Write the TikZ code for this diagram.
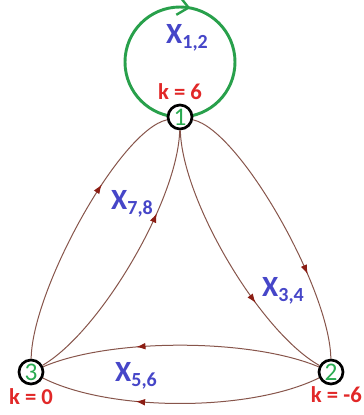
\documentclass[tikz,border=0pt]{standalone}
\usepackage{fontspec}
\setmainfont{Carlito}
\usetikzlibrary{arrows.meta, positioning, decorations.markings, backgrounds}

\definecolor{edgebrown}{RGB}{135,85,75}
\definecolor{tipred}{RGB}{140,30,20}
\definecolor{loopgreen}{RGB}{40,160,75}
\definecolor{varblue}{RGB}{70,70,200}
\definecolor{kred}{RGB}{225,40,40}
\definecolor{digitgreen}{RGB}{40,170,80}

\newcommand{\flowvar}[1]{\textbf{X}\raisebox{-0.35ex}{\fontsize{15}{15}\selectfont\bfseries #1}}

\tikzset{
  vertex/.style={circle, draw=black, line width=2pt, fill=white, inner sep=0pt,
    minimum size=18pt, font=\fontsize{19}{19}\selectfont, text=digitgreen},
  klbl/.style={font=\fontsize{17}{17}\selectfont\bfseries, text=kred, inner sep=1pt},
  varlbl/.style={font=\fontsize{22}{22}\selectfont, text=varblue},
  flow/.style={draw=edgebrown, line width=0.75pt, postaction={decorate},
    decoration={markings, mark=at position #1 with {\arrow[tipred]{Latex[length=7pt,width=5pt]}}}},
  flow/.default=0.65
}

\begin{document}
\begin{tikzpicture}[x=0.75pt, y=-0.75pt]
  \useasboundingbox (0,0) rectangle (364,415);

  % vertices
  \node[vertex] (n1) at (180,117) {1};
  \node[vertex] (n2) at (331,372) {2};
  \node[vertex] (n3) at (31,372) {3};

  % supplies
  \node[klbl, above=2pt of n1] (k1) {k = 6};
  \node[klbl, below=0pt of n2, xshift=4pt] (k2) {k = -6};
  \node[klbl, below=1pt of n3] (k3) {k = 0};

  % self loop
  \begin{scope}[on background layer]
    \draw[loopgreen, line width=2.2pt, postaction={decorate},
      decoration={markings, mark=at position 0.53 with {\arrow[loopgreen, line width=1.8pt]{Straight Barb[length=8pt,width=14pt]}}}]
      (n1.center) arc[start angle=90, end angle=450, radius=55];
  \end{scope}

  % arcs between vertices
  \draw[flow=0.67] (n3) .. controls (32,290) and (120,130) .. (n1);
  \draw[flow=0.69] (n3) .. controls (100,332) and (178,200) .. (n1);
  \draw[flow=0.69] (n1) .. controls (240,130) and (330,290) .. (n2);
  \draw[flow=0.68] (n1) .. controls (182,200) and (260,332) .. (n2);
  \draw[flow=0.66] (n2) .. controls (250,338) and (110,338) .. (n3);
  \draw[flow=0.66] (n2) .. controls (250,412) and (110,412) .. (n3);

  % flow variables
  \node[varlbl] (x12) at (187,38) {\flowvar{1,2}};
  \node[varlbl] (x78) at (132,204) {\flowvar{7,8}};
  \node[varlbl] (x34) at (283,291) {\flowvar{3,4}};
  \node[varlbl] (x56) at (136,376) {\flowvar{5,6}};
\end{tikzpicture}
\end{document}
